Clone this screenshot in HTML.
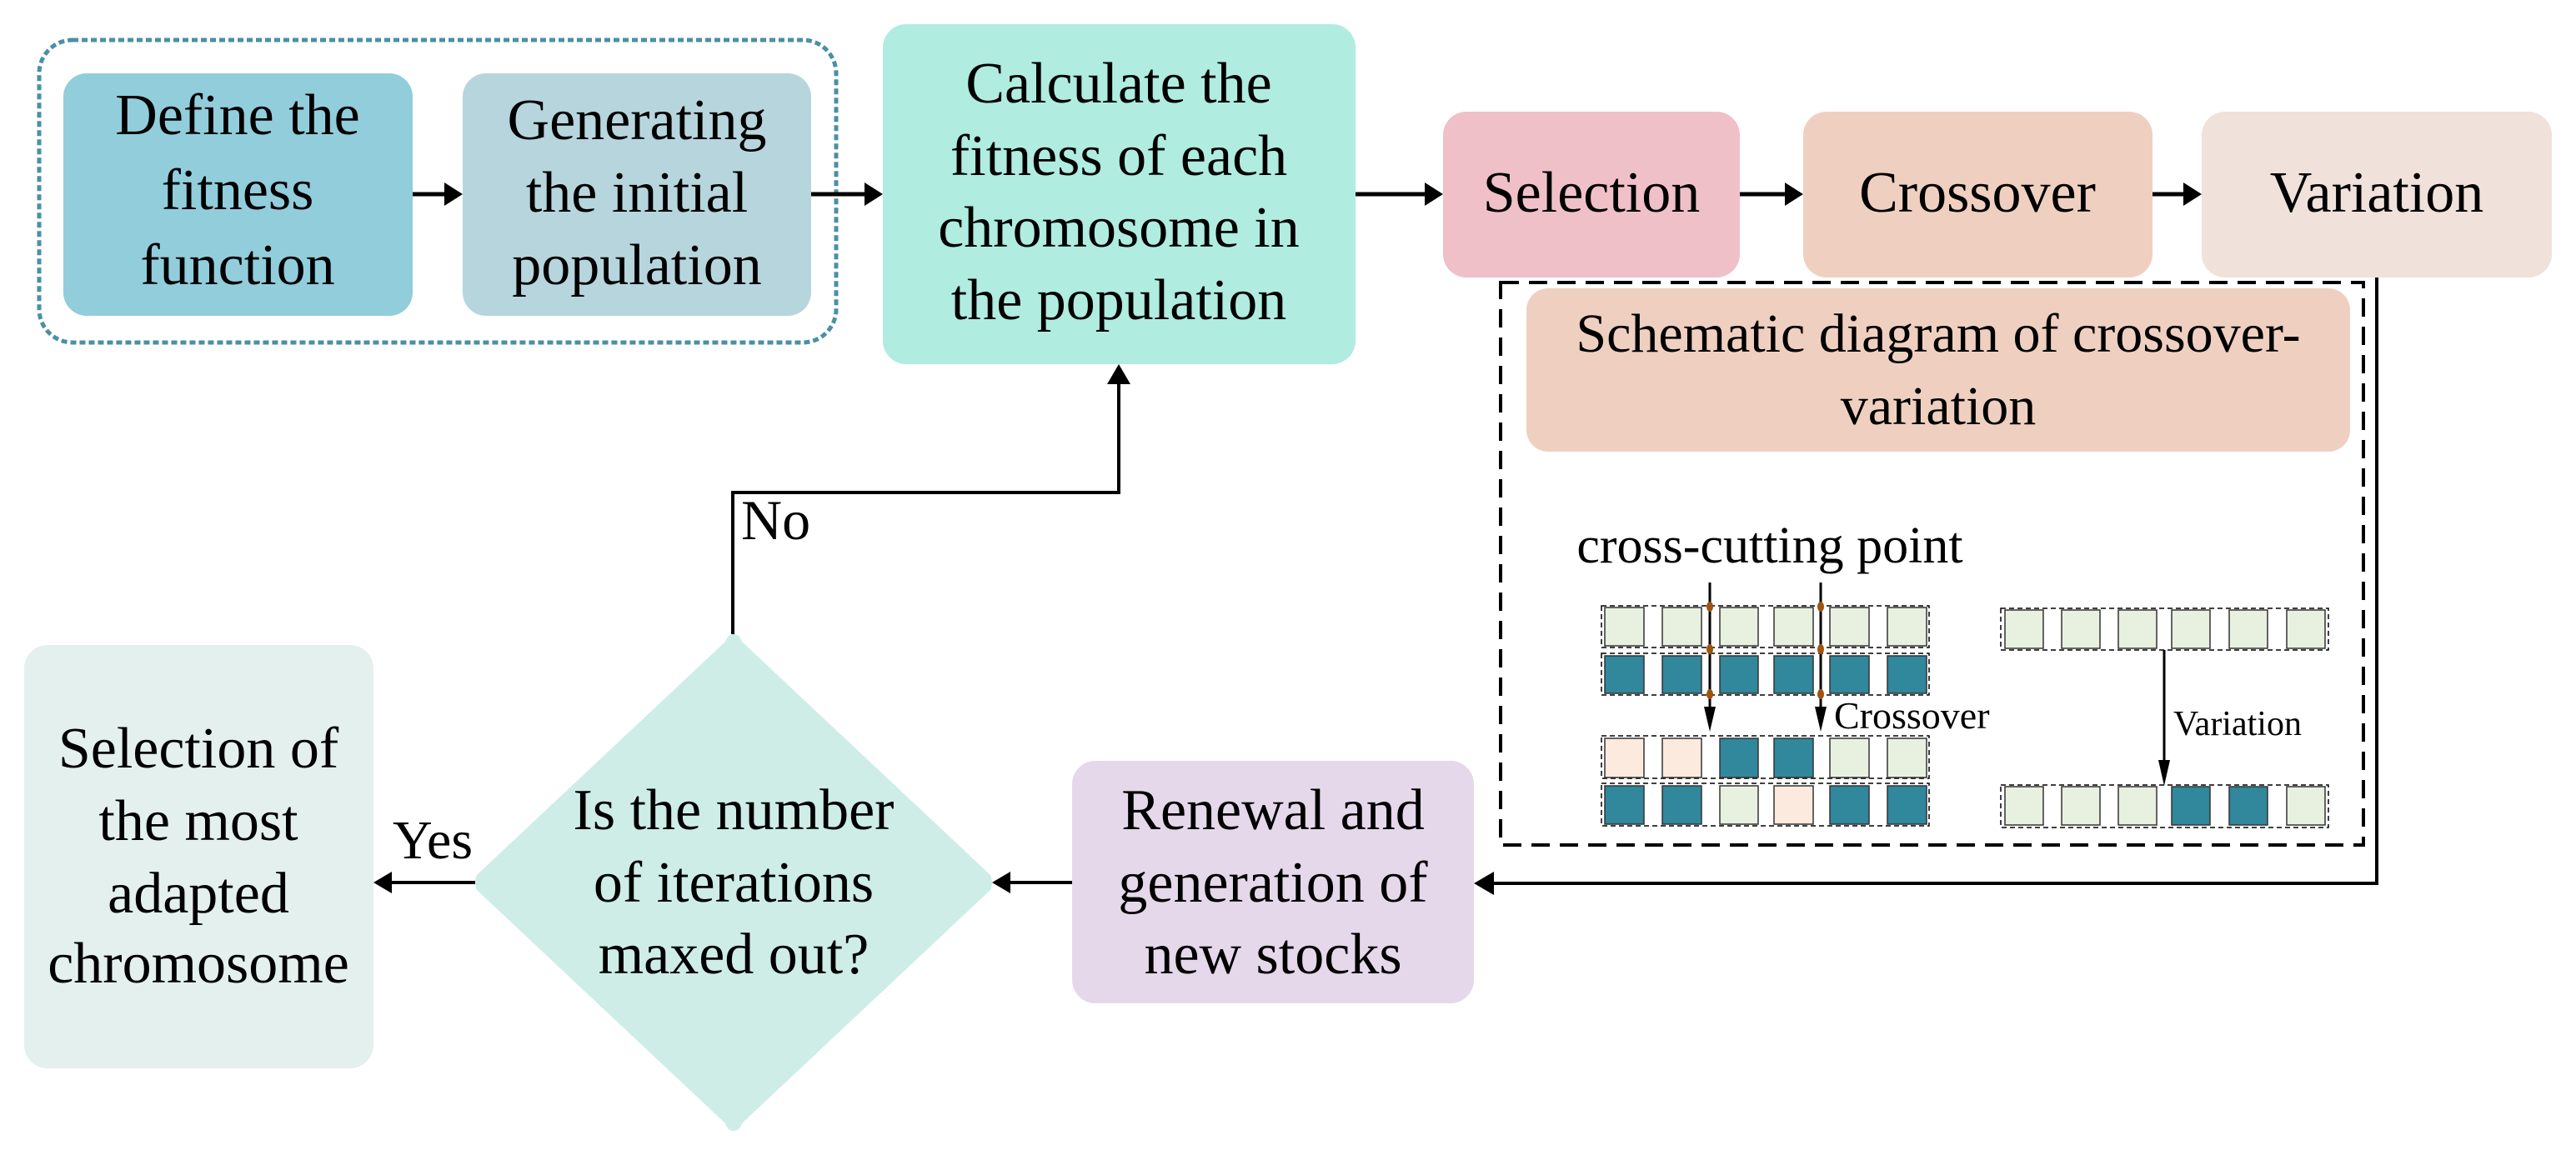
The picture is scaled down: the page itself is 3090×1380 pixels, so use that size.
<!DOCTYPE html>
<html><head><meta charset="utf-8"><style>
html,body{margin:0;padding:0;background:#fff;}
svg{display:block;}
</style></head><body>
<svg width="3090" height="1380" viewBox="0 0 3090 1380" xmlns="http://www.w3.org/2000/svg" font-family="'Liberation Serif', 'Times New Roman', 'DejaVu Serif', serif">
<!-- dotted group -->
<rect x="47" y="48" width="956" height="363" rx="40" fill="none" stroke="#4A90A4" stroke-width="5" stroke-dasharray="7,4"/>
<rect x="76" y="88" width="419" height="291" rx="28" fill="#92CDDC"/>
<rect x="555" y="88" width="418" height="291" rx="28" fill="#B7D5DD"/>
<rect x="1059" y="29" width="567" height="408" rx="28" fill="#B0ECE0"/>
<rect x="1731" y="134" width="356" height="199" rx="28" fill="#F0C0C8"/>
<rect x="2163" y="134" width="419" height="199" rx="28" fill="#EFD0C0"/>
<rect x="2641" y="134" width="420" height="199" rx="28" fill="#F0E1DA"/>

<g font-size="70" text-anchor="middle" fill="#000">
<text x="285" y="161">Define the</text><text x="285" y="251">fitness</text><text x="285" y="341">function</text>
<text x="764" y="167">Generating</text><text x="764" y="254">the initial</text><text x="764" y="341">population</text>
<text x="1342" y="123">Calculate the</text><text x="1342" y="210">fitness of each</text><text x="1342" y="296">chromosome in</text><text x="1342" y="383">the population</text>
<text x="1909" y="254">Selection</text>
<text x="2372" y="254">Crossover</text>
<text x="2851" y="254">Variation</text>
</g>

<!-- arrows top row -->
<g stroke="#000" stroke-width="5" fill="none">
<line x1="495" y1="233" x2="540" y2="233"/>
<line x1="973" y1="233" x2="1040" y2="233"/>
<line x1="1626" y1="233" x2="1712" y2="233"/>
<line x1="2087" y1="233" x2="2145" y2="233"/>
<line x1="2582" y1="233" x2="2622" y2="233"/>
</g>
<g fill="#000">
<path d="M533,219 L555,233 L533,247 z"/><path d="M1037,219 L1059,233 L1037,247 z"/>
<path d="M1709,219 L1731,233 L1709,247 z"/><path d="M2141,219 L2163,233 L2141,247 z"/>
<path d="M2619,219 L2641,233 L2619,247 z"/>
</g>

<!-- dashed schematic box -->
<rect x="1800" y="339" width="1035" height="675" fill="none" stroke="#000" stroke-width="4" stroke-dasharray="22,12"/>
<rect x="1831" y="346" width="988" height="196" rx="26" fill="#EFD0C0"/>
<g font-size="66" text-anchor="middle" fill="#000">
<text x="2325" y="422">Schematic diagram of crossover-</text>
<text x="2325" y="509">variation</text>
</g>
<text x="2123" y="675" font-size="62" text-anchor="middle">cross-cutting point</text>

<!-- chromosome rows -->
<g stroke="#000" stroke-width="1.5" stroke-dasharray="6,4" fill="none">
<rect x="1921" y="727" width="393" height="50"/>
<rect x="1921" y="784" width="393" height="50"/>
<rect x="1921" y="883" width="393" height="51"/>
<rect x="1921" y="940" width="393" height="51"/>
<rect x="2400" y="730" width="393" height="50"/>
<rect x="2400" y="942" width="393" height="51"/>
</g>
<g stroke="#333" stroke-width="1.5">
<rect x="1925" y="729" width="47" height="46" fill="#E8F0DF"/><rect x="1994" y="729" width="47" height="46" fill="#E8F0DF"/><rect x="2063" y="729" width="46" height="46" fill="#E8F0DF"/><rect x="2128" y="729" width="47" height="46" fill="#E8F0DF"/><rect x="2195" y="729" width="47" height="46" fill="#E8F0DF"/><rect x="2264" y="729" width="47" height="46" fill="#E8F0DF"/>
<rect x="1925" y="787" width="47" height="45" fill="#31879B"/><rect x="1994" y="787" width="47" height="45" fill="#31879B"/><rect x="2063" y="787" width="46" height="45" fill="#31879B"/><rect x="2128" y="787" width="47" height="45" fill="#31879B"/><rect x="2195" y="787" width="47" height="45" fill="#31879B"/><rect x="2264" y="787" width="47" height="45" fill="#31879B"/>
<rect x="1925" y="886" width="47" height="47" fill="#FCEADE"/><rect x="1994" y="886" width="47" height="47" fill="#FCEADE"/><rect x="2063" y="886" width="46" height="47" fill="#31879B"/><rect x="2128" y="886" width="47" height="47" fill="#31879B"/><rect x="2195" y="886" width="47" height="47" fill="#E8F0DF"/><rect x="2264" y="886" width="47" height="47" fill="#E8F0DF"/>
<rect x="1925" y="943" width="47" height="46" fill="#31879B"/><rect x="1994" y="943" width="47" height="46" fill="#31879B"/><rect x="2063" y="943" width="46" height="46" fill="#E8F0DF"/><rect x="2128" y="943" width="47" height="46" fill="#FCEADE"/><rect x="2195" y="943" width="47" height="46" fill="#31879B"/><rect x="2264" y="943" width="47" height="46" fill="#31879B"/>
<rect x="2405" y="732" width="46" height="46" fill="#E8F0DF"/><rect x="2473" y="732" width="46" height="46" fill="#E8F0DF"/><rect x="2541" y="732" width="46" height="46" fill="#E8F0DF"/><rect x="2605" y="732" width="46" height="46" fill="#E8F0DF"/><rect x="2674" y="732" width="46" height="46" fill="#E8F0DF"/><rect x="2743" y="732" width="46" height="46" fill="#E8F0DF"/>
<rect x="2405" y="944" width="46" height="46" fill="#E8F0DF"/><rect x="2473" y="944" width="46" height="46" fill="#E8F0DF"/><rect x="2541" y="944" width="46" height="46" fill="#E8F0DF"/><rect x="2605" y="944" width="46" height="46" fill="#31879B"/><rect x="2674" y="944" width="46" height="46" fill="#31879B"/><rect x="2743" y="944" width="46" height="46" fill="#E8F0DF"/>
</g>
<!-- cut lines -->
<g stroke="#000" stroke-width="3">
<line x1="2051" y1="699" x2="2051" y2="852"/>
<line x1="2184" y1="699" x2="2184" y2="852"/>
<line x1="2596" y1="780" x2="2596" y2="915"/>
</g>
<g fill="#000">
<path d="M2044,848 L2058,848 L2051,878 z"/>
<path d="M2177,848 L2191,848 L2184,878 z"/>
<path d="M2589,912 L2603,912 L2596,943 z"/>
</g>
<g fill="#A0520F">
<ellipse cx="2051" cy="728" rx="4" ry="6"/><ellipse cx="2051" cy="779" rx="4" ry="6"/><ellipse cx="2051" cy="833" rx="4" ry="6"/>
<ellipse cx="2184" cy="728" rx="4" ry="6"/><ellipse cx="2184" cy="779" rx="4" ry="6"/><ellipse cx="2184" cy="833" rx="4" ry="6"/>
</g>
<text x="2200" y="874" font-size="46">Crossover</text>
<text x="2607" y="882" font-size="42">Variation</text>

<!-- right return line -->
<polyline points="2851,333 2851,1060 1790,1060" fill="none" stroke="#000" stroke-width="4"/>
<path d="M1792,1046 L1768,1060 L1792,1074 z" fill="#000"/>

<!-- bottom row -->
<rect x="1286" y="913" width="482" height="291" rx="28" fill="#E5D8EA"/>
<path d="M880,761 Q887,761 890,770 L1188,1050 Q1192,1059 1188,1068 L890,1348 Q887,1357 880,1357 Q873,1357 870,1348 L572,1068 Q568,1059 572,1050 L870,770 Q873,761 880,761 z" fill="#CDEDE6"/>
<rect x="29" y="774" width="419" height="508" rx="28" fill="#E4F0EE"/>
<g stroke="#000" stroke-width="4">
<line x1="1286" y1="1059" x2="1210" y2="1059"/>
<line x1="570" y1="1059" x2="468" y2="1059"/>
</g>
<path d="M1212,1046 L1190,1059 L1212,1072 z" fill="#000"/>
<path d="M470,1046 L448,1059 L470,1072 z" fill="#000"/>
<g font-size="70" text-anchor="middle" fill="#000">
<text x="1527" y="995">Renewal and</text><text x="1527" y="1082">generation of</text><text x="1527" y="1168">new stocks</text>
<text x="880" y="995">Is the number</text><text x="880" y="1082">of iterations</text><text x="880" y="1168">maxed out?</text>
<text x="238" y="921">Selection of</text><text x="238" y="1008">the most</text><text x="238" y="1095">adapted</text><text x="238" y="1179">chromosome</text>
</g>
<text x="471" y="1030" font-size="66">Yes</text>

<!-- No loop -->
<polyline points="879,761 879,591 1342,591 1342,460" fill="none" stroke="#000" stroke-width="4"/>
<path d="M1328,461 L1342,437 L1356,461 z" fill="#000"/>
<text x="889" y="647" font-size="68">No</text>
</svg>
</body></html>
